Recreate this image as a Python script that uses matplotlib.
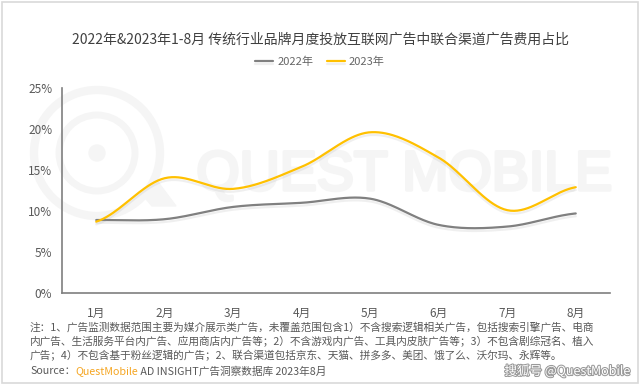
import numpy as np
import matplotlib
matplotlib.use('Agg')
import matplotlib.pyplot as plt
import matplotlib.patheffects as pe
from matplotlib.patches import Circle, Rectangle, Polygon

plt.rcParams['font.family'] = ['Noto Sans CJK SC', 'DejaVu Sans']

months = ['1月', '2月', '3月', '4月', '5月', '6月', '7月', '8月']
share_2022 = [8.9, 9.0, 10.5, 11.0, 11.5, 8.3, 8.1, 9.7]
share_2023 = [8.7, 14.0, 12.7, 15.4, 19.6, 16.5, 10.1, 12.9]
y_ticks = [0, 5, 10, 15, 20, 25]

title = '2022年&2023年1-8月 传统行业品牌月度投放互联网广告中联合渠道广告费用占比'
note_lines = [
    '注：1、广告监测数据范围主要为媒介展示类广告，未覆盖范围包含1）不含搜索逻辑相关广告，包括搜索引擎广告、电商',
    '内广告、生活服务平台内广告、应用商店内广告等；2）不含游戏内广告、工具内皮肤广告等；3）不包含剧综冠名、植入',
    '广告；4）不包含基于粉丝逻辑的广告；2、联合渠道包括京东、天猫、拼多多、美团、饿了么、沃尔玛、永辉等。',
]

GRAY = '#808080'
YELLOW = '#FFC000'
TXT = '#595959'


def smooth(y, n=40):
    # catmull-rom through the points, only for drawing
    y = np.asarray(y, float)
    p = np.concatenate([[y[0]], y, [y[-1]]])
    xs, ys = [], []
    for i in range(len(y) - 1):
        p0, p1, p2, p3 = p[i], p[i + 1], p[i + 2], p[i + 3]
        m1 = (p2 - p0) / 2
        m2 = (p3 - p1) / 2
        t = np.linspace(0, 1, n, endpoint=False)
        h00 = 2 * t**3 - 3 * t**2 + 1
        h10 = t**3 - 2 * t**2 + t
        h01 = -2 * t**3 + 3 * t**2
        h11 = t**3 - t**2
        xs.append(i + t)
        ys.append(h00 * p1 + h10 * m1 + h01 * p2 + h11 * m2)
    xs.append([len(y) - 1])
    ys.append([y[-1]])
    return np.concatenate(xs), np.concatenate(ys)


fig = plt.figure(figsize=(6.4, 3.84), dpi=100)
fig.patch.set_facecolor('white')
W, H = 640, 384


def fx(px):
    return px / W


def fy(py):
    return 1 - py / H


# frame
fig.patches.append(Rectangle((fx(1.5), fy(382.5)), fx(636), 381 / H, transform=fig.transFigure,
                             fill=False, edgecolor='#d9d9d9', linewidth=1.2))

# watermark logo
wm = '#f5f5f5'
ax_wm = fig.add_axes([0, 0, 1, 1], zorder=-1)
ax_wm.set_xlim(0, W)
ax_wm.set_ylim(H, 0)
ax_wm.axis('off')
ax_wm.add_patch(Circle((97, 153), 8, color=wm))
ax_wm.add_patch(Circle((97, 153), 63, fill=False, edgecolor=wm, linewidth=6))
ax_wm.add_patch(Circle((97, 153), 38, fill=False, edgecolor=wm, linewidth=5))
ax_wm.add_patch(Polygon([[140, 192], [158, 182], [176, 206], [152, 206]], closed=True, color=wm))
ax_wm.text(611, 176, 'QUEST MOBILE', fontsize=40, color=wm, ha='right', va='center',
           family='Liberation Sans',
           path_effects=[pe.withStroke(linewidth=2.5, foreground=wm)])

ax = fig.add_axes([fx(62), fy(293), fx(548), 205 / H])
ax.patch.set_alpha(0)

x = np.arange(len(months))
for vals, col, lab in [(share_2022, GRAY, '2022年'), (share_2023, YELLOW, '2023年')]:
    sx, sy = smooth(vals)
    ax.plot(sx, sy, color=col, linewidth=1.6, label=lab, solid_capstyle='round',
            path_effects=[pe.SimpleLineShadow(offset=(0, -2), shadow_color='#999999', alpha=0.15),
                          pe.Normal()])

ax.set_xlim(-0.5, len(months) - 0.5)
ax.set_ylim(0, 25)
ax.set_xticks(x)
ax.set_xticklabels(months)
ax.set_yticks(y_ticks)
ax.set_yticklabels([f'{v}%' for v in y_ticks])
ax.tick_params(axis='x', length=0, pad=10, labelsize=8.5, labelcolor=TXT)
ax.tick_params(axis='y', length=0, pad=7, labelsize=8.5, labelcolor=TXT)
for s in ['top', 'right']:
    ax.spines[s].set_visible(False)
for s in ['left', 'bottom']:
    ax.spines[s].set_color('#7f7f7f')
    ax.spines[s].set_linewidth(1.2)

fig.text(0.5, fy(40), title, ha='center', va='center', fontsize=10, color='#404040')
ax.legend(loc='center', bbox_to_anchor=(0.5, fy(62)), bbox_transform=fig.transFigure, ncol=2,
          frameon=False, fontsize=8, labelcolor='#666666', handlelength=1.6, columnspacing=1.2,
          handletextpad=0.4)

for i, line in enumerate(note_lines):
    fig.text(fx(30), fy(327 + i * 14.5), line, ha='left', va='center', fontsize=7.7, color=TXT)

# source line with coloured brand name
fig.canvas.draw()
r = fig.canvas.get_renderer()
xpos = fx(30)
for part, col in [('Source：', TXT), ('QuestMobile', '#F5A623'), (' AD INSIGHT广告洞察数据库 2023年8月', TXT)]:
    t = fig.text(xpos, fy(371), part, ha='left', va='center', fontsize=7.7, color=col)
    bb = t.get_window_extent(renderer=r)
    xpos += bb.width / W

fig.text(fx(630), fy(371), '搜狐号 @QuestMobile', ha='right', va='center', fontsize=9, color='white',
         path_effects=[pe.withStroke(linewidth=1.5, foreground='#9a9a9a')])

fig.savefig('out.png', dpi=100)
